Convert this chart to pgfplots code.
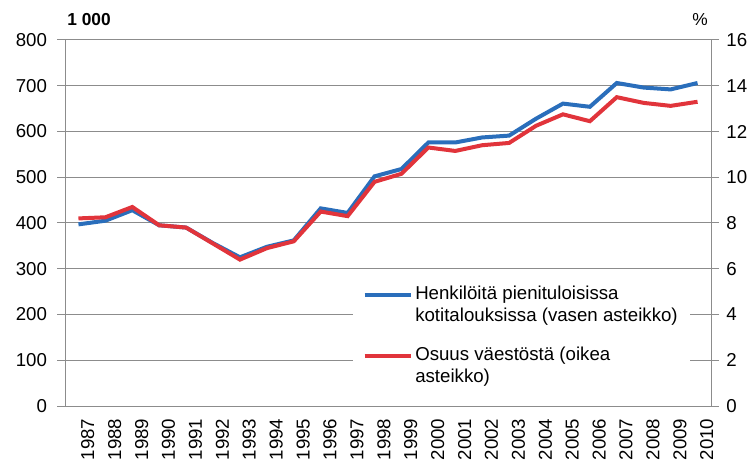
\documentclass[border=0pt]{standalone}
\usepackage{fontspec}
\setmainfont{Liberation Sans}
\usepackage{pgfplots}
\usepackage{pgfplotstable}
\pgfplotsset{compat=1.18}
\definecolor{sblue}{HTML}{2A6EBB}
\definecolor{sred}{HTML}{E1343B}
\definecolor{gridgray}{HTML}{8C8C8C}

\pgfplotstableread{
year henk osuus
1987 397 8.20
1988 405 8.25
1989 428 8.70
1990 395 7.90
1991 390 7.80
1992 356 7.10
1993 325 6.40
1994 348 6.90
1995 362 7.20
1996 432 8.50
1997 422 8.30
1998 502 9.80
1999 518 10.15
2000 576 11.30
2001 576 11.15
2002 587 11.40
2003 591 11.50
2004 628 12.25
2005 661 12.75
2006 654 12.45
2007 706 13.50
2008 696 13.25
2009 692 13.12
2010 706 13.30
}\data

\pgfplotsset{
  base/.style={
    scale only axis, width=484.5pt, height=274.5pt,
    at={(0,0)}, anchor=south west,
    xmin=1986.5, xmax=2010.5,
    tick align=outside,
    major tick length=6pt,
    tick style={color=gridgray, line width=0.75pt},
    axis line style={color=gridgray, line width=0.75pt},
    tick label style={font=\fontsize{14}{16}\selectfont, color=black},
    /pgf/number format/assume math mode=true,
  },
}

\begin{document}
\begin{tikzpicture}
\path[use as bounding box] (-48.75pt,-43.5pt) rectangle (515.25pt,304.5pt);

\begin{axis}[base,
  axis x line*=bottom, axis y line*=left,
  ymin=0, ymax=800, ytick={0,100,...,800},
  ymajorgrids, grid style={color=gridgray, line width=0.75pt},
  xtick={1987,...,2010}, xtick style={draw=none},
  minor xtick={1986.5,1987.5,...,2010.5},
  minor tick length=5.25pt,
  minor x tick style={color=gridgray, line width=0.75pt},
  xticklabel style={rotate=90, anchor=east, /pgf/number format/1000 sep={}, yshift=-7pt},
  yticklabel style={xshift=-4pt},
]
\addplot[sblue, line width=3pt] table[x=year, y=henk] {\data};
\end{axis}

\begin{axis}[base,
  axis x line=none, axis y line*=right,
  ymin=0, ymax=16, ytick={0,2,...,16},
  legend style={at={(rel axis cs:0.4458,0.344)}, anchor=north west,
    draw=none, fill=white, inner xsep=7pt, inner ysep=2pt,
    font=\fontsize{14}{17}\selectfont, row sep=13pt,
    nodes={align=left, inner xsep=2pt}},
  legend cell align=left,
  legend image code/.code={\draw[#1] (0pt,7.5pt) -- (34.5pt,7.5pt);},
  yticklabel style={xshift=2pt},
]
\addlegendimage{sblue, line width=3pt}
\addlegendentry{Henkilöitä pienituloisissa\\kotitalouksissa (vasen asteikko)}
\addplot[sred, line width=3pt] table[x=year, y=osuus] {\data};
\addlegendentry{Osuus väestöstä (oikea\\asteikko)}
\end{axis}

\node[font=\bfseries\fontsize{13}{15}\selectfont] at (18pt,289.5pt) {1 000};
\node[font=\fontsize{13}{15}\selectfont] at (476.25pt,289.5pt) {\%};
\end{tikzpicture}
\end{document}
